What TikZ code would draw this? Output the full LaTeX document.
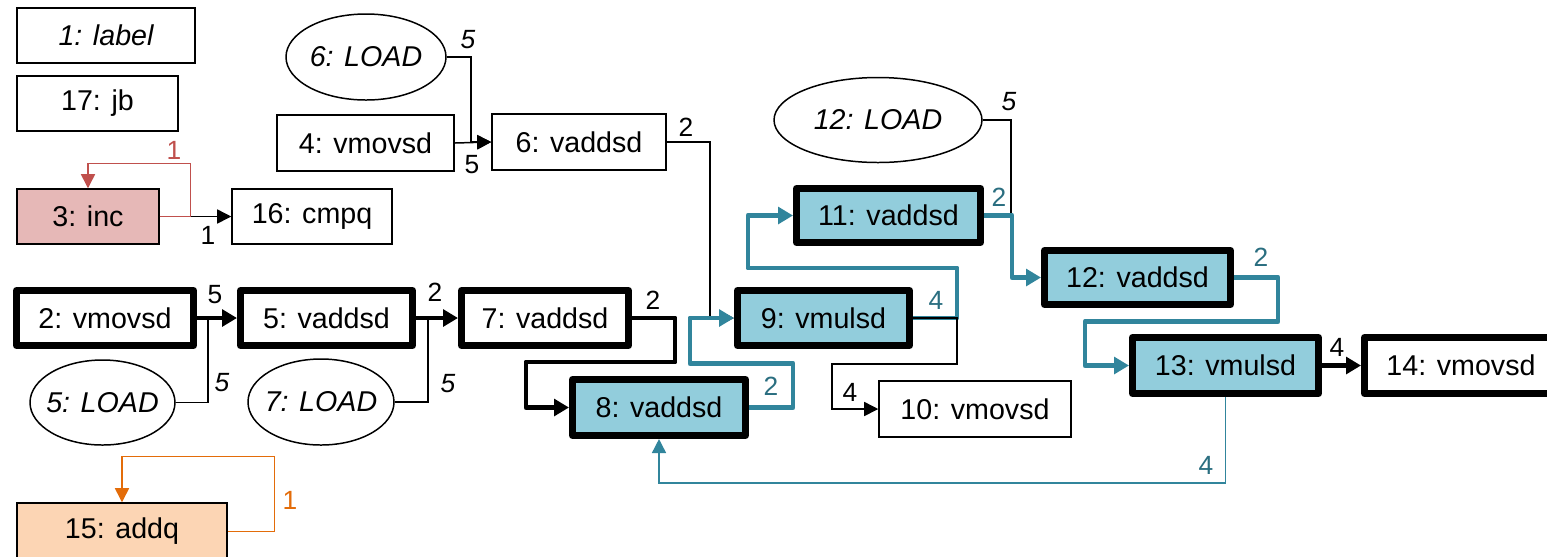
\documentclass[tikz,border=0pt]{standalone}
\usepackage{fontspec}
\setmainfont{Liberation Sans}
\usetikzlibrary{positioning, arrows.meta, shapes.geometric}
\definecolor{celeste}{HTML}{92CDDC}
\definecolor{azul}{HTML}{31859C}
\definecolor{azuloscuro}{HTML}{2A6E80}
\definecolor{rosa}{HTML}{E6B8B7}
\definecolor{rojo}{HTML}{C0504D}
\definecolor{melocoton}{HTML}{FCD5B4}
\definecolor{naranja}{HTML}{E36C09}

\begin{document}
\begin{tikzpicture}[x=0.02cm, y=-0.02cm, font=\fontsize{16.3}{19}\selectfont,
    tam/.style 2 args={minimum width=#1*0.02cm, minimum height=#2*0.02cm},
    caja/.style={draw, line width=0.85pt, inner sep=0pt, outer sep=auto},
    gruesa/.style={caja, line width=4pt, line join=round},
    carga/.style={ellipse, draw, line width=0.85pt, inner ysep=0pt, inner xsep=-6pt, font=\fontsize{16.3}{19}\selectfont\itshape},
    hilo/.style={line width=0.85pt},
    fina/.style={hilo, -{Triangle[length=8pt,width=8pt]}},
    gorda/.style={line width=2.8pt, line join=round, -{Triangle[length=8.5pt,width=9.5pt]}},
    lat/.style={font=\fontsize{15}{18}\selectfont, inner sep=0pt}]
  \clip (0,0) rectangle (1547,556);
  \fill[white] (0,0) rectangle (1547,556);

  % nodos
  \node[caja, tam={178}{55}, font=\fontsize{16.3}{19}\selectfont\itshape] (etiqueta) at (106,35.5) {1: label};
  \node[caja, tam={161}{55}] (jb17) at (97.5,103.5) {17: jb};
  \node[caja, fill=rosa, tam={142}{55}] (inc3) at (88,216.5) {3: inc};
  \node[caja, tam={160}{55}] (cmpq16) at (312,216.5) {16: cmpq};
  \node[carga, tam={160}{86}] (load6) at (366,57) {6: LOAD};
  \node[caja, tam={177}{56}] (mov4) at (365.5,143) {4: vmovsd};
  \node[caja, tam={174}{56}] (add6) at (579,142) {6: vaddsd};
  \node[carga, tam={208}{85}] (load12) at (878,120) {12: LOAD};
  \node[gruesa, fill=celeste, tam={184}{54}] (add11) at (888.5,215.5) {11: vaddsd};
  \node[gruesa, fill=celeste, tam={186}{54}] (add12) at (1137.5,277.5) {12: vaddsd};
  \node[gruesa, tam={177}{55}] (mov2) at (105,318) {2: vmovsd};
  \node[gruesa, tam={172}{55}] (add5) at (326.5,318) {5: vaddsd};
  \node[gruesa, tam={167}{55}] (add7) at (545,318) {7: vaddsd};
  \node[gruesa, fill=celeste, tam={172}{55}] (mul9) at (823.5,318) {9: vmulsd};
  \node[gruesa, fill=celeste, tam={173}{56}] (add8) at (659,407.5) {8: vaddsd};
  \node[caja, tam={192}{56}] (mov10) at (975,409) {10: vmovsd};
  \node[gruesa, fill=celeste, tam={186}{56}] (mul13) at (1225.5,365.5) {13: vmulsd};
  \node[gruesa, tam={193}{56}] (mov14) at (1461,365.5) {14: vmovsd};
  \node[carga, tam={145}{85}] (load5) at (102.5,402.5) {5: LOAD};
  \node[carga, tam={146}{86}] (load7) at (321,402) {7: LOAD};
  \node[caja, fill=melocoton, tam={210}{57}] (addq15) at (122,531.5) {15: addq};

  \coordinate (j5) at (208,318);
  \coordinate (j7) at (428,318);
  \coordinate (j12) at (1011,215.5);

  % dependencias
  \draw[fina] (inc3.east) -- (cmpq16.west);
  \draw[fina, rojo] (inc3.east) -- ++(31,0) -- ++(0,-53) -| (inc3.north);
  \draw[fina] (load6.east) -- ++(24,0) |- (add6.west);
  \draw[fina] (mov4.east) -- (add6.west);
  \draw[fina] (add6.east) -- ++(43,0) |- (mul9.west);
  \draw[gorda] (mov2.east) -- (add5.west);
  \draw[hilo] (load5.east) -| (j5);
  \draw[gorda] (add5.east) -- (add7.west);
  \draw[hilo] (load7.east) -| (j7);
  \draw[gorda] (add7.east) -- ++(43,0) -- ++(0,44) -- ++(-149,0) |- (add8.west);
  \draw[gorda, azul] (add8.east) -- ++(44,0) -- ++(0,-44) -- ++(-103,0) |- (mul9.west);
  \draw[gorda, azul] (mul9.east) -- ++(44,0) -- ++(0,-50) -- ++(-209,0) |- (add11.west);
  \draw[fina] (mul9.east) -- ++(44,0) -- ++(0,46) -- ++(-125,0) |- (mov10.west);
  \draw[hilo] (load12.east) -| (j12);
  \draw[gorda, azul] (add11.east) -- ++(28,0) |- (add12.west);
  \draw[gorda, azul] (add12.east) -- ++(44,0) -- ++(0,44) -- ++(-193,0) |- (mul13.west);
  \draw[gorda] (mul13.east) -- (mov14.west);
  \draw[fina, azul] (mul13.south) -- ++(0,86) -| (add8.south);
  \draw[fina, naranja] (addq15.east) -- ++(47,0) -- ++(0,-75) -| (addq15.north);

  % latencias
  \node[lat, text=rojo] (l1) at (174,150) {1};
  \node[lat] (l2) at (208,235) {1};
  \node[lat, font=\fontsize{15}{18}\selectfont\itshape] (l3) at (468,40) {5};
  \node[lat] (l4) at (472,165) {5};
  \node[lat] (l5) at (686,127) {2};
  \node[lat] (l6) at (215,295) {5};
  \node[lat, font=\fontsize{15}{18}\selectfont\itshape] (l7) at (222,383) {5};
  \node[lat] (l8) at (435,292) {2};
  \node[lat, font=\fontsize{15}{18}\selectfont\itshape] (l9) at (448,384) {5};
  \node[lat] (l10) at (653,300) {2};
  \node[lat, text=azuloscuro] (l11) at (771,386) {2};
  \node[lat, text=azuloscuro] (l12) at (936,300) {4};
  \node[lat] (l13) at (850,392) {4};
  \node[lat, font=\fontsize{15}{18}\selectfont\itshape] (l14) at (1009,102) {5};
  \node[lat, text=azuloscuro] (l15) at (999,197) {2};
  \node[lat, text=azuloscuro] (l16) at (1261,257) {2};
  \node[lat] (l17) at (1337,347) {4};
  \node[lat, text=azuloscuro] (l18) at (1206,465) {4};
  \node[lat, text=naranja] (l19) at (290,500) {1};
\end{tikzpicture}
\end{document}
